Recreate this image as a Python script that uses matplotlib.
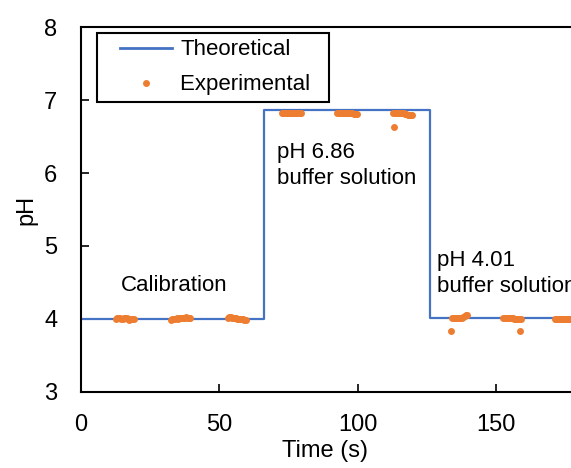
import numpy as np
import matplotlib
matplotlib.use('Agg')
import matplotlib.pyplot as plt
from matplotlib.legend_handler import HandlerLine2D

plt.rcParams['font.family'] = ['Liberation Sans', 'DejaVu Sans']

# theoretical step profile
theo_t = [0, 66, 66, 126, 126, 200]
theo_ph = [4.00, 4.00, 6.86, 6.86, 4.01, 4.01]

exp_t = [12.5, 13.0, 13.5, 14.0, 14.5, 15.0, 15.5, 16.0, 16.5, 17.0, 17.5, 18.0, 18.5, 19.0,
         32.5, 33.0, 33.5, 34.0, 34.5, 35.0, 35.5, 36.0, 36.5, 37.0, 37.5, 38.0, 38.5, 39.0, 39.5,
         53.0, 53.5, 54.0, 54.5, 55.0, 55.5, 56.0, 56.5, 57.0, 57.5, 58.0, 58.5, 59.0, 59.5,
         72.5, 73.0, 73.5, 74.0, 74.5, 75.0, 75.5, 76.0, 76.5, 77.0, 77.5, 78.0, 78.5, 79.0, 79.5,
         92.5, 93.0, 93.5, 94.0, 94.5, 95.0, 95.5, 96.0, 96.5, 97.0, 97.5, 98.0, 98.5, 99.0, 99.5,
         112.5, 113.0, 113.5, 114.0, 114.5, 115.0, 115.5, 116.0, 116.5, 117.0, 117.5, 118.0, 118.5, 119.0, 119.5,
         133.5, 134.0, 134.5, 135.0, 135.5, 136.0, 136.5, 137.0, 137.5, 138.0, 138.5, 139.0, 139.5,
         152.5, 153.0, 153.5, 154.0, 154.5, 155.0, 155.5, 156.0, 156.5, 157.0, 157.5, 158.0, 158.5, 159.0,
         171.0, 171.5, 172.0, 172.5, 173.0, 173.5, 174.0, 174.5, 175.0, 175.5, 176.0, 176.5, 177.0, 177.5, 178.0]
exp_ph = [4.00, 4.01, 4.02, 4.01, 4.00, 4.00, 4.01, 4.02, 4.01, 4.00, 3.99, 4.00, 4.00, 4.00,
          3.99, 4.00, 4.00, 4.00, 4.01, 4.00, 4.01, 4.02, 4.02, 4.01, 4.02, 4.03, 4.02, 4.02, 4.01,
          4.02, 4.03, 4.03, 4.02, 4.02, 4.01, 4.01, 4.00, 4.00, 4.00, 4.00, 4.00, 3.99, 3.99,
          6.82, 6.82, 6.82, 6.82, 6.82, 6.82, 6.82, 6.82, 6.82, 6.82, 6.82, 6.82, 6.82, 6.82, 6.82,
          6.82, 6.82, 6.82, 6.82, 6.82, 6.82, 6.82, 6.82, 6.82, 6.82, 6.82, 6.82, 6.81, 6.81, 6.81,
          6.82, 6.63, 6.82, 6.82, 6.82, 6.82, 6.82, 6.82, 6.82, 6.81, 6.81, 6.80, 6.80, 6.79, 6.79,
          3.83, 4.01, 4.01, 4.02, 4.02, 4.02, 4.02, 4.02, 4.02, 4.03, 4.04, 4.05, 4.05,
          4.02, 4.02, 4.01, 4.01, 4.01, 4.01, 4.01, 4.01, 4.00, 4.00, 4.00, 4.00, 3.83, 4.00,
          4.00, 4.00, 4.00, 4.00, 4.00, 4.00, 4.00, 4.00, 4.00, 4.00, 4.00, 4.00, 4.00, 4.00, 4.00]

FS = 16


class ShiftedHandler(HandlerLine2D):
    # leave some blank space left of the legend handle (Excel look)
    def __init__(self, shift, **kw):
        super().__init__(**kw)
        self.shift = shift

    def create_artists(self, legend, orig, xd, yd, w, h, fs, trans):
        arts = super().create_artists(legend, orig, xd, yd, w, h, fs, trans)
        x0 = -xd + self.shift * fs
        x1 = -xd + w
        for a in arts:
            xs = np.asarray(a.get_xdata(), dtype=float)
            if len(xs) > 1:
                a.set_xdata(np.linspace(x0, x1, len(xs)))
            else:
                a.set_xdata([0.5 * (x0 + x1)])
        return arts


fig = plt.figure(figsize=(5.71, 4.68), dpi=100)
ax = fig.add_axes([0.1419, 0.1624, 0.970, 0.7799])

line, = ax.plot(theo_t, theo_ph, color='#4472C4', lw=1.6, label='Theoretical', zorder=2)
pts, = ax.plot(exp_t, exp_ph, 'o', color='#ED7D31', ms=5, mec='none', label='Experimental  ', zorder=3)

ax.set_xlim(0, 200)
ax.set_ylim(3, 8)
ax.set_xticks([0, 50, 100, 150, 200])
ax.set_yticks([3, 4, 5, 6, 7, 8])
ax.tick_params(direction='in', length=6, width=1.2, labelsize=17, pad=16)
ax.tick_params(axis='y', pad=17)
for s in ax.spines.values():
    s.set_linewidth(1.5)
    s.set_color('black')

ax.set_xlabel('Time (s)', fontsize=17)
ax.xaxis.set_label_coords(0.44, -0.131)
ax.set_ylabel('pH', fontsize=17)
ax.yaxis.set_label_coords(-0.078, 0.5)

ax.text(14.5, 4.46, 'Calibration', fontsize=FS, va='center')
ax.text(70.8, 6.10, 'pH 6.86\nbuffer solution', fontsize=FS, va='center', linespacing=1.3)
ax.text(128.5, 4.62, 'pH 4.01\nbuffer solution', fontsize=FS, va='center', linespacing=1.3)

hm = {line: ShiftedHandler(0.72), pts: ShiftedHandler(0.72)}
leg = ax.legend(handles=[line, pts], handler_map=hm, loc='upper left',
                bbox_to_anchor=(0.029, 0.984), fontsize=FS,
                frameon=True, fancybox=False, edgecolor='black', framealpha=1,
                handlelength=3.1, handletextpad=0.35, borderpad=0.29,
                labelspacing=0.63, borderaxespad=0)
leg.get_frame().set_linewidth(1.5)
leg.get_lines()[0].set_linewidth(2.0)

fig.savefig('out.png', dpi=100)
